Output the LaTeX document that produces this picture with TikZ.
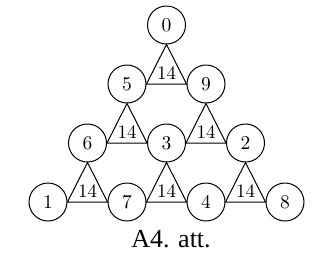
\documentclass[tikz,border=0pt]{standalone}
\usepackage{fontspec}
\usetikzlibrary{calc}
\newfontfamily\capfont{Liberation Serif}
\newfontfamily\numfont{lmroman10-regular}[Extension=.otf]
\begin{document}
\begin{tikzpicture}[x=1pt,y=-1pt,
  num/.style={circle,draw,line width=1pt,minimum size=38pt,inner sep=0pt,font=\numfont\fontsize{19.5}{21}\selectfont},
  tri/.style={line width=1pt,line join=miter},
  lab/.style={inner sep=0pt,font=\numfont\fontsize{19}{21}\selectfont}]
\useasboundingbox (0,0) rectangle (316,255);
\node[num] (n0) at (166.5,25) {0};
\node[num] (n5) at (127,84) {5};
\node[num] (n9) at (206,84) {9};
\node[num] (n6) at (87.5,143) {6};
\node[num] (n3) at (166.5,143) {3};
\node[num] (n2) at (245.5,143) {2};
\node[num] (n1) at (48,202) {1};
\node[num] (n7) at (127,202) {7};
\node[num] (n4) at (206,202) {4};
\node[num] (n8) at (285,202) {8};
\foreach \t/\l/\r in {n0/n5/n9, n5/n6/n3, n9/n3/n2, n6/n1/n7, n3/n7/n4, n2/n4/n8}{
  \draw[tri] (\t.south) -- (\l.east) -- (\r.west) -- cycle;
  \node[lab] at ($(\l.east)!0.5!(\r.west)+(0,-11)$) {14};
}
\node[anchor=base,inner sep=0pt,font=\capfont\fontsize{26}{28}\selectfont] (cap) at (171,247) {A4. att.};
\end{tikzpicture}
\end{document}
